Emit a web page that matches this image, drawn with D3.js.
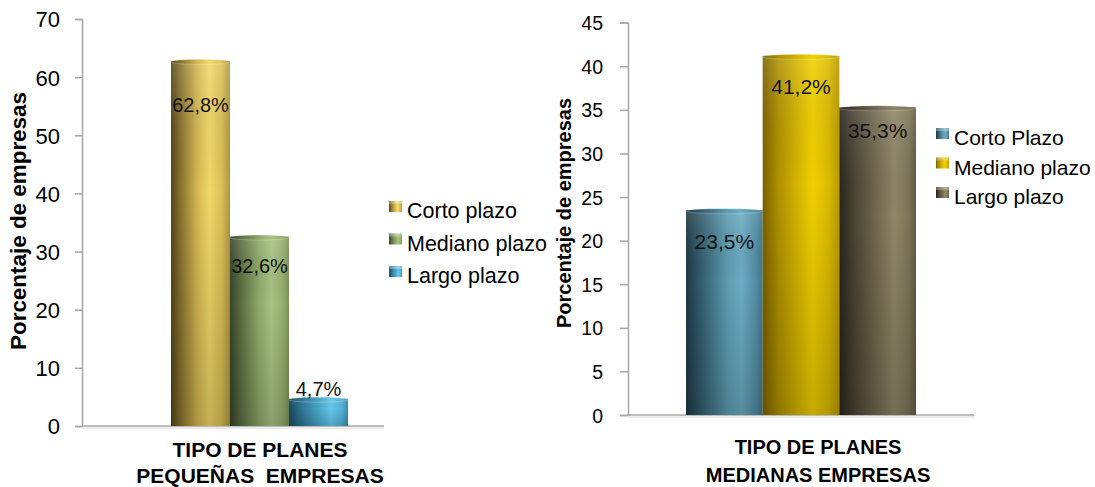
<!DOCTYPE html>
<html><head><meta charset="utf-8">
<script src="https://cdn.jsdelivr.net/npm/d3@7"></script>
<style>body{margin:0;background:#fff}svg{display:block}</style>
</head><body>
<svg id="c" width="1095" height="487"></svg>
<script>
// ---- data ----
const seriesSmall = ["Corto plazo", "Mediano plazo", "Largo plazo"];
const valuesSmall = [62.8, 32.6, 4.7];
const labelsSmall = ["62,8%", "32,6%", "4,7%"];
const ticksSmall = [0, 10, 20, 30, 40, 50, 60, 70];
const xTitleSmall = ["TIPO DE PLANES", "PEQUEÑAS  EMPRESAS"];

const seriesMed = ["Corto Plazo", "Mediano plazo", "Largo plazo"];
const valuesMed = [23.5, 41.2, 35.3];
const labelsMed = ["23,5%", "41,2%", "35,3%"];
const ticksMed = [0, 5, 10, 15, 20, 25, 30, 35, 40, 45];
const xTitleMed = ["TIPO DE PLANES", "MEDIANAS EMPRESAS"];

const yTitle = "Porcentaje de empresas";

// ---- styles ----
const gradSmall = [
  [["0%","#54461a"],["18%","#8c7630"],["45%","#d4b852"],["65%","#f0d86a"],["85%","#dcc258"],["100%","#b09640"]],
  [["0%","#364428"],["20%","#5e7042"],["50%","#8fa96a"],["70%","#a9c283"],["88%","#98b070"],["100%","#7c9258"]],
  [["0%","#1a4a60"],["20%","#2d7290"],["50%","#4aa6c8"],["72%","#66c8ea"],["90%","#52b2d6"],["100%","#3a8fb0"]]
];
const gradMed = [
  [["0%","#1e3844"],["20%","#335d6e"],["55%","#5e9cb2"],["72%","#6cabc2"],["90%","#5590a6"],["100%","#40768a"]],
  [["0%","#7a6200"],["20%","#ad9000"],["45%","#d4b400"],["65%","#f0d000"],["85%","#dcbc00"],["100%","#b89a00"]],
  [["0%","#29251c"],["20%","#4a4434"],["50%","#746a50"],["72%","#8f8668"],["90%","#7e7558"],["100%","#625a44"]]
];

const svg = d3.select("#c");
const defs = svg.append("defs");
function mkGrad(id, stops){
  const g = defs.append("linearGradient").attr("id", id).attr("x1","0").attr("x2","1").attr("y1","0").attr("y2","0");
  stops.forEach(s => g.append("stop").attr("offset", s[0]).attr("stop-color", s[1]));
}
gradSmall.forEach((s,i)=>mkGrad("gs"+i, s));
gradMed.forEach((s,i)=>mkGrad("gm"+i, s));
const shade = defs.append("linearGradient").attr("id","shade").attr("x1","0").attr("x2","0").attr("y1","0").attr("y2","1");
shade.append("stop").attr("offset","0%").attr("stop-color","#fff").attr("stop-opacity",0.12);
shade.append("stop").attr("offset","35%").attr("stop-color","#000").attr("stop-opacity",0);
shade.append("stop").attr("offset","100%").attr("stop-color","#000").attr("stop-opacity",0.18);

function drawChart(cfg){
  const g = svg.append("g");
  const y = d3.scaleLinear().domain(cfg.domain).range([cfg.y0, cfg.y1]);
  const x = d3.scaleBand().domain(cfg.series).range(cfg.barRange).padding(0);

  const axis = d3.axisLeft(y).tickValues(cfg.ticks).tickSize(cfg.tickLen).tickPadding(cfg.tickPad);
  const ag = g.append("g").attr("transform", `translate(${cfg.axisX},0)`).call(axis);
  ag.select(".domain").attr("stroke","#a6a6a6").attr("stroke-width",1.5);
  ag.selectAll(".tick line").attr("stroke","#a6a6a6").attr("stroke-width",1.5);
  ag.selectAll(".tick text").attr("fill","#000").attr("font-family","Liberation Sans, Arial, sans-serif")
    .attr("font-size", cfg.tickFont).attr("dy","0.36em");
  g.append("line").attr("x1", cfg.axisX).attr("x2", cfg.baseEnd).attr("y1", y(0)).attr("y2", y(0))
    .attr("stroke","#a6a6a6").attr("stroke-width",1.5);
  g.append("line").attr("x1", cfg.axisX).attr("x2", cfg.baseEnd).attr("y1", y(0)+2).attr("y2", y(0)+2)
    .attr("stroke","#e4e4e4").attr("stroke-width",1.5);

  const bars = g.selectAll("g.bar").data(cfg.values).join("g").attr("class","bar");
  bars.append("rect")
    .attr("x",(d,i)=>x(cfg.series[i])).attr("width", x.bandwidth())
    .attr("y", d=>y(d)).attr("height", d=>y(0)-y(d))
    .attr("fill",(d,i)=>`url(#${cfg.gid}${i})`);
  bars.append("rect")
    .attr("x",(d,i)=>x(cfg.series[i])).attr("width", x.bandwidth())
    .attr("y", d=>y(d)).attr("height", d=>y(0)-y(d))
    .attr("fill","url(#shade)");
  bars.append("ellipse")
    .attr("cx",(d,i)=>x(cfg.series[i])+x.bandwidth()/2).attr("cy", d=>y(d)+1)
    .attr("rx", x.bandwidth()/2).attr("ry", 2.5)
    .attr("fill",(d,i)=>`url(#${cfg.gid}${i})`).attr("stroke","#fff").attr("stroke-opacity",0.3).attr("stroke-width",0.8);

  g.selectAll("text.val").data(cfg.values).join("text").attr("class","val")
    .attr("x",(d,i)=>x(cfg.series[i])+x.bandwidth()/2 + cfg.labelDx[i])
    .attr("y",(d,i)=>y(d)+cfg.labelDy[i])
    .attr("text-anchor","middle").attr("font-family","Liberation Sans, Arial, sans-serif")
    .attr("font-size", cfg.labelFont).attr("fill","#111")
    .text((d,i)=>cfg.labels[i]);

  g.append("text").attr("transform",`translate(${cfg.yTitleX},${cfg.yTitleY}) rotate(-90)`)
    .attr("text-anchor","middle").attr("font-family","Liberation Sans, Arial, sans-serif")
    .attr("font-weight","bold").attr("font-size", cfg.yTitleFont)
    .attr("textLength", cfg.yTitleLen).attr("lengthAdjust","spacingAndGlyphs")
    .text(yTitle);

  g.selectAll("text.xt").data(cfg.xTitle).join("text").attr("class","xt")
    .attr("x", cfg.xTitleX).attr("y",(d,i)=>cfg.xTitleY[i])
    .attr("text-anchor","middle").attr("font-family","Liberation Sans, Arial, sans-serif")
    .attr("font-weight","bold").attr("font-size", cfg.xTitleFont)
    .attr("xml:space","preserve").style("white-space","pre")
    .text(d=>d);

  const lg = g.selectAll("g.lg").data(cfg.series).join("g").attr("class","lg")
    .attr("transform",(d,i)=>`translate(${cfg.legX},${cfg.legY + i*cfg.legStep})`);
  lg.append("rect").attr("x",0).attr("y",-cfg.legBox+1).attr("width",cfg.legBox).attr("height",cfg.legBox-2)
    .attr("fill",(d,i)=>`url(#${cfg.gid}${i})`);
  lg.append("rect").attr("x",0).attr("y",-cfg.legBox+1).attr("width",cfg.legBox).attr("height",3)
    .attr("fill","#fff").attr("opacity",0.3);
  lg.append("text").attr("x", cfg.legBox+5).attr("y", 5)
    .attr("font-family","Liberation Sans, Arial, sans-serif").attr("font-size", cfg.legFont).attr("fill","#000")
    .text(d=>d);
}

drawChart({
  domain:[0,70], y0:426, y1:19, series:seriesSmall, values:valuesSmall, labels:labelsSmall, ticks:ticksSmall,
  barRange:[171,348], axisX:82, baseEnd:384, tickLen:7, tickPad:15, tickFont:22, gid:"gs",
  labelFont:20, labelDx:[0,0,0], labelDy:[51,37,-3],
  yTitleX:26, yTitleY:221, yTitleFont:22, yTitleLen:258,
  xTitle:xTitleSmall, xTitleX:260, xTitleY:[457,483], xTitleFont:21,
  legX:389, legY:213, legStep:32.5, legBox:13, legFont:21.5
});
drawChart({
  domain:[0,45], y0:415, y1:22.7, series:seriesMed, values:valuesMed, labels:labelsMed, ticks:ticksMed,
  barRange:[686,916], axisX:628, baseEnd:974, tickLen:8, tickPad:17, tickFont:19.5, gid:"gm",
  labelFont:21, labelDx:[0,0,0], labelDy:[39,38,31],
  yTitleX:571, yTitleY:213, yTitleFont:20, yTitleLen:230,
  xTitle:xTitleMed, xTitleX:818, xTitleY:[454,482], xTitleFont:20,
  legX:936, legY:140, legStep:29.5, legBox:13, legFont:21
});
</script>
</body></html>
